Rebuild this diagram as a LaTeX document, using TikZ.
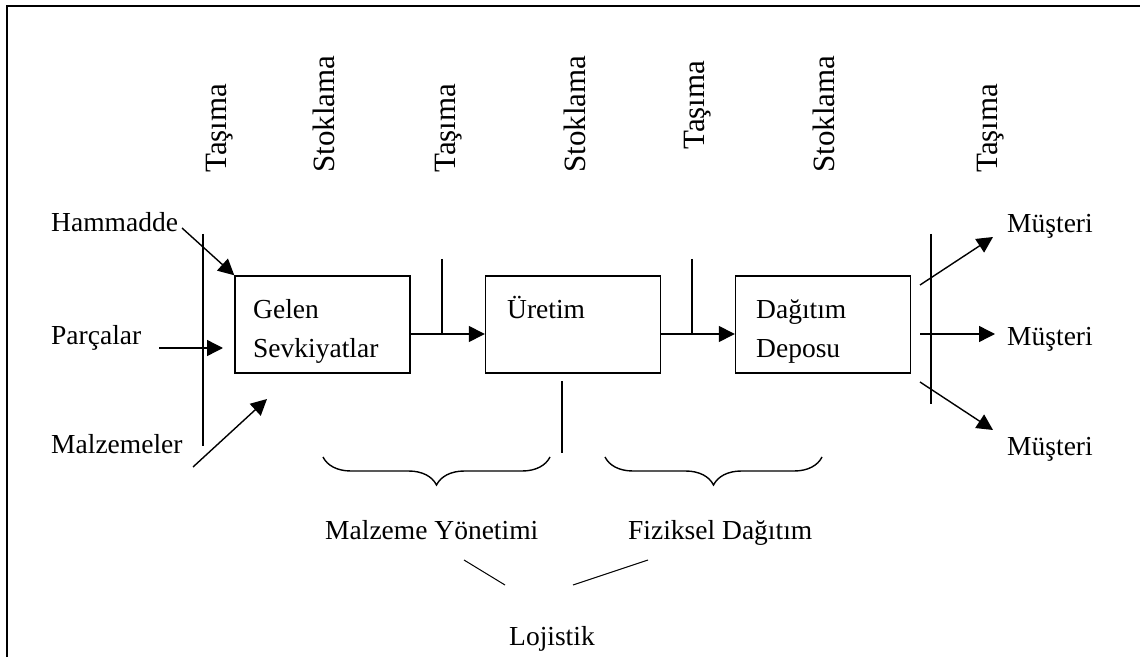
\documentclass[tikz,border=0pt]{standalone}
\usepackage{fontspec}
\setmainfont{Liberation Serif}
\usetikzlibrary{arrows.meta,decorations.pathreplacing}

\begin{document}
\begin{tikzpicture}[x=1pt,y=1pt,
  box/.style={draw,line width=1.4pt,minimum width=175pt,minimum height=97pt,inner sep=0pt},
  lbl/.style={anchor=base west,inner sep=0pt,font=\fontsize{27.5}{30}\selectfont},
  vlbl/.style={anchor=base west,rotate=90,inner sep=0pt,font=\fontsize{31}{34}\selectfont},
  ln/.style={line width=1.4pt},
  thin/.style={line width=1pt},
  arr/.style={line width=1.4pt,-{Triangle[length=16pt,width=16pt]}},
  brc/.style={decorate,decoration={brace,amplitude=28pt,aspect=0.5},line width=1.4pt},
  frame/.style={line width=2.6pt,line join=miter}]
\useasboundingbox (0,0) rectangle (1140,657);

% outer frame (top and left edges)
\draw[frame] (7,0) -- (7,651) -- (1140,651);

% process boxes
\node[box] (gelen) at (322.5,332.5) {};
\node[box] (uretim) at (573,332.5) {};
\node[box] (dagitim) at (823,332.5) {};

\node[lbl] (tGelen) at (253,339) {Gelen};
\node[lbl] (tSevk) at (253,300) {Sevkiyatlar};
\node[lbl] (tUretim) at (507,339) {Üretim};
\node[lbl] (tDagitim) at (756,339) {Dağıtım};
\node[lbl] (tDeposu) at (756,300) {Deposu};

% flow between boxes, with storage ticks
\coordinate (j1) at (442,323);
\coordinate (j1top) at (442,398);
\coordinate (j2) at (692,323);
\coordinate (j2top) at (692,398);
\draw[arr] (gelen.east |- j1) -- (uretim.west |- j1);
\draw[arr] (uretim.east |- j2) -- (dagitim.west |- j2);
\draw[ln] (j1top) -- (j1);
\draw[ln] (j2top) -- (j2);

% inbound and outbound transport bars
\coordinate (inTop) at (203,423);
\coordinate (inBot) at (203,211);
\coordinate (outTop) at (931,423);
\coordinate (outBot) at (931,253);
\draw[ln] (inTop) -- (inBot);
\draw[ln] (outTop) -- (outBot);

% divider below production
\coordinate (divTop) at (562,276);
\coordinate (divBot) at (562,204);
\draw[ln] (divTop) -- (divBot);

% inbound sources
\node[lbl] (ham) at (51,425) {Hammadde};
\node[lbl] (par) at (51,313) {Parçalar};
\node[lbl] (malz) at (51,204) {Malzemeler};
\coordinate (hamS) at (182,429);
\coordinate (parS) at (159,309);
\coordinate (parE) at (223,309);
\coordinate (malzS) at (193,190);
\coordinate (malzE) at (267,258);
\draw[arr] (hamS) -- (gelen.north west);
\draw[arr] (parS) -- (parE);
\draw[arr] (malzS) -- (malzE);

% outbound customers
\node[lbl] (m1) at (1007,424) {Müşteri};
\node[lbl] (m2) at (1007,312) {Müşteri};
\node[lbl] (m3) at (1007,202) {Müşteri};
\coordinate (o1S) at (920,372);
\coordinate (o1E) at (993,420);
\coordinate (o2S) at (920,323);
\coordinate (o2E) at (995,323);
\coordinate (o3S) at (920,275);
\coordinate (o3E) at (993,227);
\draw[arr] (o1S) -- (o1E);
\draw[arr] (o2S) -- (o2E);
\draw[arr] (o3S) -- (o3E);

% activity labels along the top
\node[vlbl] (v1) at (226,484) {Taşıma};
\node[vlbl] (v2) at (334,484) {Stoklama};
\node[vlbl] (v3) at (455,484) {Taşıma};
\node[vlbl] (v4) at (585,484) {Stoklama};
\node[vlbl] (v5) at (704,507) {Taşıma};
\node[vlbl] (v6) at (834,484) {Stoklama};
\node[vlbl] (v7) at (997,484) {Taşıma};

% grouping braces
\coordinate (b1R) at (550,200);
\coordinate (b1L) at (323,200);
\coordinate (b2R) at (822,200);
\coordinate (b2L) at (605,200);
\draw[brc] (b1R) -- (b1L);
\draw[brc] (b2R) -- (b2L);
\node[lbl] (my) at (325,118) {Malzeme Yönetimi};
\node[lbl] (fd) at (628,118) {Fiziksel Dağıtım};

% both groups join into logistics
\coordinate (l1S) at (464,97);
\coordinate (l1E) at (505,72);
\coordinate (l2S) at (573,72);
\coordinate (l2E) at (648,97);
\draw[thin] (l1S) -- (l1E);
\draw[thin] (l2S) -- (l2E);
\node[lbl] (loj) at (509,12) {Lojistik};
\end{tikzpicture}
\end{document}
